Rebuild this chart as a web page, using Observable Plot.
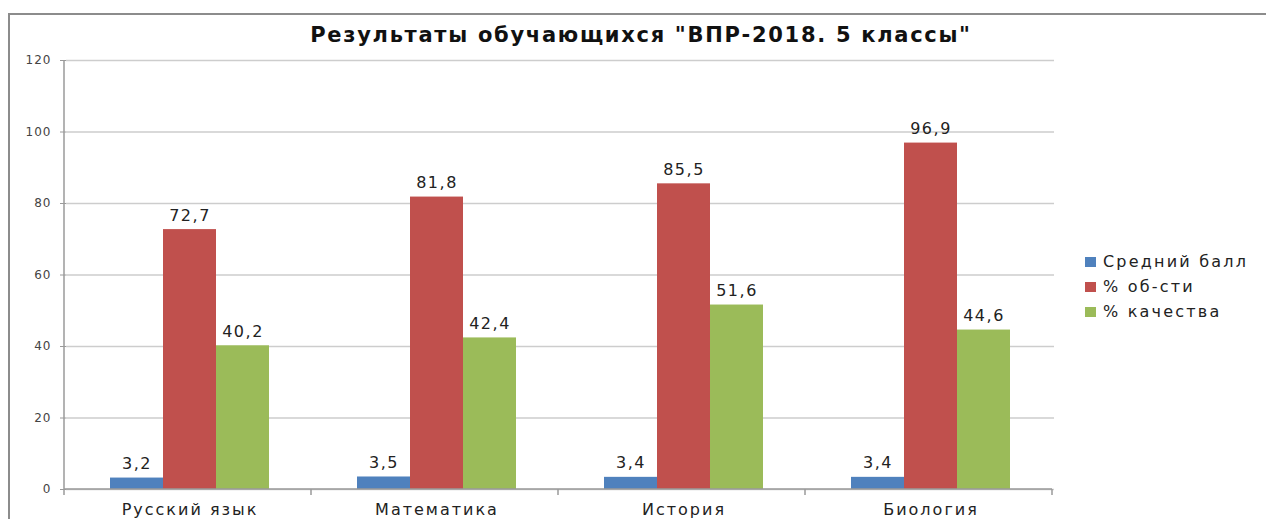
<!DOCTYPE html>
<html>
<head>
<meta charset="utf-8">
<script src="https://cdn.jsdelivr.net/npm/d3@7"></script>
<script src="https://cdn.jsdelivr.net/npm/@observablehq/plot@0.6"></script>
<style>
  html, body { margin: 0; padding: 0; background: #fff; }
  #wrap { position: relative; width: 1266px; height: 519px; overflow: hidden; font-family: "DejaVu Sans", sans-serif; }
  #frame { position: absolute; left: 8px; top: 13px; right: -10px; bottom: -10px; border-top: 2px solid #8c8c8c; border-left: 2px solid #8c8c8c; }
  #title { position: absolute; left: 0; width: 1282px; top: 22px; text-align: center; font-size: 21px; letter-spacing: 1.7px; font-weight: bold; line-height: 26px; color: #111; }
  #chart { position: absolute; left: 0; top: 50px; }
  #legend { position: absolute; left: 1085px; top: 250px; font-size: 16px; letter-spacing: 2.2px; color: #222; }
  #legend .row { height: 25px; line-height: 24px; white-space: nowrap; }
  #legend .sw { display: inline-block; width: 11px; height: 10px; margin-right: 7px; vertical-align: 0px; }
</style>
</head>
<body>
<div id="wrap">
  <div id="frame"></div>
  <div id="title"></div>
  <div id="chart"></div>
  <div id="legend"></div>
</div>
<script>
const titleText = "Результаты обучающихся \"ВПР-2018. 5 классы\"";
const subjects = ["Русский язык", "Математика", "История", "Биология"];
const seriesNames = ["Средний балл", "% об-сти", "% качества"];
const avgScore = [3.2, 3.5, 3.4, 3.4];
const passRate = [72.7, 81.8, 85.5, 96.9];
const qualityRate = [40.2, 42.4, 51.6, 44.6];
const yTicks = [0, 20, 40, 60, 80, 100, 120];
const colors = ["#4F81BD", "#C0504D", "#9BBB59"];

const seriesValues = [avgScore, passRate, qualityRate];
const rows = subjects.flatMap((s, i) =>
  seriesNames.map((n, j) => ({subject: s, series: n, value: seriesValues[j][i]}))
);
const fmt = v => String(v).replace(".", ",");

document.getElementById("title").textContent = titleText;

const chart = Plot.plot({
  width: 1266,
  height: 469,
  marginLeft: 64,
  marginRight: 211,
  marginTop: 10,
  marginBottom: 30,
  style: {fontFamily: "DejaVu Sans, sans-serif", fontSize: "12px", color: "#444", background: "transparent", overflow: "visible"},
  fx: {domain: subjects, padding: 0, label: null, axis: "bottom", tickSize: 0, tickPadding: 14},
  x: {domain: seriesNames, paddingInner: 0, paddingOuter: 0.83, axis: null},
  y: {domain: [0, 120], ticks: yTicks, label: null, tickSize: 6, tickPadding: 9},
  color: {domain: seriesNames, range: colors},
  marks: [
    Plot.ruleY(yTicks, {stroke: "#cdcdcd", strokeWidth: 1.5}),
    Plot.barY(rows, {fx: "subject", x: "series", y: "value", fill: "series"}),
    Plot.text(rows, {fx: "subject", x: "series", y: "value", text: d => fmt(d.value), dy: -14, fontSize: 16, fill: "#222"})
  ]
});
document.getElementById("chart").appendChild(chart);

const svg = d3.select(chart);
// label styling to mimic the wide rendering of the original
svg.selectAll("g[aria-label='fx-axis tick label'] text, g[aria-label='fx-axis'] text")
  .attr("font-size", 16).attr("fill", "#222").style("letter-spacing", "2px");
svg.selectAll("g[aria-label='y-axis tick label'] text, g[aria-label='y-axis'] text")
  .style("letter-spacing", "1px").attr("fill", "#444");
svg.selectAll("g[aria-label='text'] text").style("letter-spacing", "1.5px");
svg.selectAll("g[aria-label='y-axis tick'] path, g[aria-label='y-axis'] line").attr("stroke", "#9a9a9a");

// y axis line, baseline and category boundary ticks, computed from the plot's scales
const ys = chart.scale("y");
const fxs = chart.scale("fx");
const y0 = ys.range[0], y1 = ys.range[1];
const left = fxs.range[0];
const g = svg.append("g").attr("stroke", "#9a9a9a").attr("stroke-width", 1.5);
g.append("line").attr("x1", left).attr("x2", left).attr("y1", y0).attr("y2", y1);
g.append("line").attr("x1", left).attr("x2", left + fxs.step * subjects.length).attr("y1", y0).attr("y2", y0);
for (let i = 0; i <= subjects.length; i++) {
  const x = left + fxs.step * i;
  g.append("line").attr("x1", x).attr("x2", x).attr("y1", y0).attr("y2", y0 + 6);
}

// legend
const legend = document.getElementById("legend");
seriesNames.forEach((n, i) => {
  const row = document.createElement("div");
  row.className = "row";
  const sw = document.createElement("span");
  sw.className = "sw";
  sw.style.background = colors[i];
  row.appendChild(sw);
  row.appendChild(document.createTextNode(n));
  legend.appendChild(row);
});
</script>
</body>
</html>
